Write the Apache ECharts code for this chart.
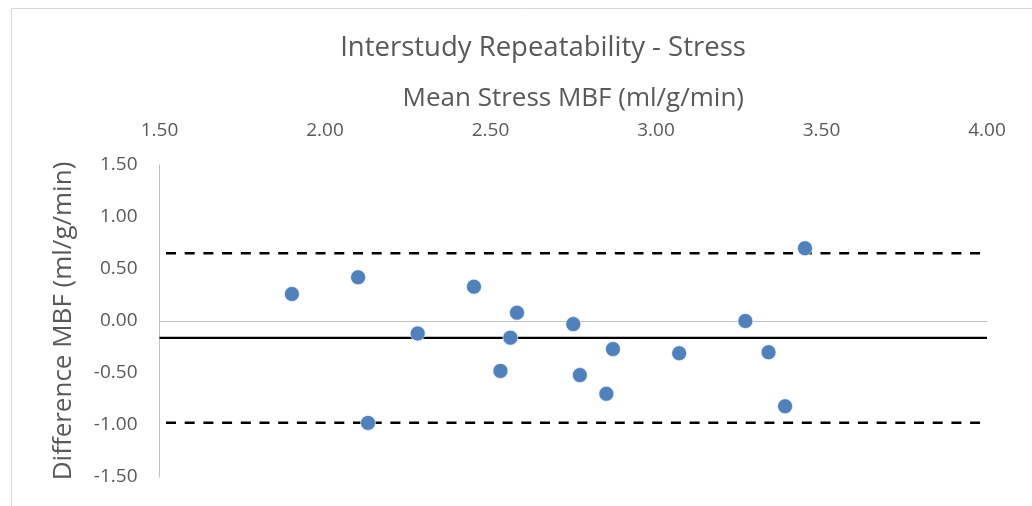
<!DOCTYPE html>
<html>
<head>
<meta charset="utf-8">
<script src="https://cdn.jsdelivr.net/npm/echarts@6/dist/echarts.min.js"></script>
<style>
  html, body { margin: 0; padding: 0; background: #fff; }
  #chart { width: 1032px; height: 506px; }
</style>
</head>
<body>
<div id="chart"></div>
<script>
// Bland-Altman style repeatability plot: mean of two stress MBF measurements vs. their difference
const meanMBF = [1.90, 2.10, 2.28, 2.45, 2.58, 2.56, 2.75, 2.53, 2.77, 2.13, 2.87, 2.85, 3.07, 3.27, 3.34, 3.39, 3.45];
const diffMBF = [0.26, 0.42, -0.12, 0.33, 0.08, -0.16, -0.03, -0.48, -0.52, -0.98, -0.27, -0.70, -0.31, 0.00, -0.30, -0.82, 0.70];

// Mean bias and limits of agreement
const biasLine = [-0.163, -0.163];
const upperLimit = [0.651, 0.651];
const lowerLimit = [-0.978, -0.978];
const lineX = [1.5, 4.0];

const xTicks = ['1.50', '2.00', '2.50', '3.00', '3.50', '4.00'];
const yTicks = ['-1.50', '-1.00', '-0.50', '0.00', '0.50', '1.00', '1.50'];

const FONT = 'Open Sans';
const TEXT = '#595959';
const AXIS = '#bfbfbf';

const chart = echarts.init(document.getElementById('chart'), null, { renderer: 'canvas' });

const pairs = (xs, ys) => xs.map((x, i) => [x, ys[i]]);

chart.setOption({
  animation: false,
  backgroundColor: '#ffffff',
  graphic: [{
    type: 'rect',
    left: 9, top: 6,
    shape: { width: 1060, height: 540 },
    style: { fill: 'none', stroke: '#d9d9d9', lineWidth: 1 },
    silent: true
  }],
  title: {
    text: 'Interstudy Repeatability - Stress',
    left: 538, top: 29,
    textAlign: 'center',
    textStyle: { fontFamily: FONT, fontSize: 27.5, fontWeight: 'normal', color: TEXT }
  },
  grid: { left: 159.5, right: 45, top: 165, bottom: 29 },
  xAxis: {
    type: 'value',
    position: 'top',
    min: 1.5, max: 4.0, interval: 0.5,
    name: 'Mean Stress MBF (ml/g/min)',
    nameLocation: 'middle',
    nameGap: 53,
    nameTextStyle: { fontFamily: FONT, fontSize: 26, color: TEXT },
    axisLine: { show: true, lineStyle: { color: AXIS, width: 1 } },
    axisTick: { show: false },
    splitLine: { show: false },
    axisLabel: {
      margin: 25,
      fontFamily: FONT, fontSize: 19, color: TEXT,
      formatter: v => xTicks.find(t => Math.abs(parseFloat(t) - v) < 1e-9) || ''
    }
  },
  yAxis: {
    type: 'value',
    min: -1.5, max: 1.5, interval: 0.5,
    name: 'Difference MBF (ml/g/min)',
    nameLocation: 'middle',
    nameGap: 83,
    nameRotate: 90,
    nameTextStyle: { fontFamily: FONT, fontSize: 26, color: TEXT },
    axisLine: { show: true, onZero: false, lineStyle: { color: AXIS, width: 1 } },
    axisTick: { show: false },
    splitLine: { show: false },
    axisLabel: {
      margin: 22,
      fontFamily: FONT, fontSize: 19, color: TEXT,
      formatter: v => yTicks.find(t => Math.abs(parseFloat(t) - v) < 1e-9) || ''
    }
  },
  series: [
    {
      type: 'line', data: pairs(lineX, upperLimit), symbol: 'none', silent: true,
      lineStyle: { color: '#000', width: 2.5, type: [10, 8.7], dashOffset: -6.5 }, z: 2
    },
    {
      type: 'line', data: pairs(lineX, lowerLimit), symbol: 'none', silent: true,
      lineStyle: { color: '#000', width: 2.5, type: [10, 8.7], dashOffset: -6.5 }, z: 2
    },
    {
      type: 'line', data: pairs(lineX, biasLine), symbol: 'none', silent: true,
      lineStyle: { color: '#000', width: 2.2 }, z: 2
    },
    {
      type: 'scatter',
      data: pairs(meanMBF, diffMBF),
      symbol: 'circle', symbolSize: 15,
      itemStyle: { color: '#4f81bd', opacity: 1, borderColor: '#ffffff', borderWidth: 0.6 },
      z: 3
    }
  ]
});
</script>
</body>
</html>
